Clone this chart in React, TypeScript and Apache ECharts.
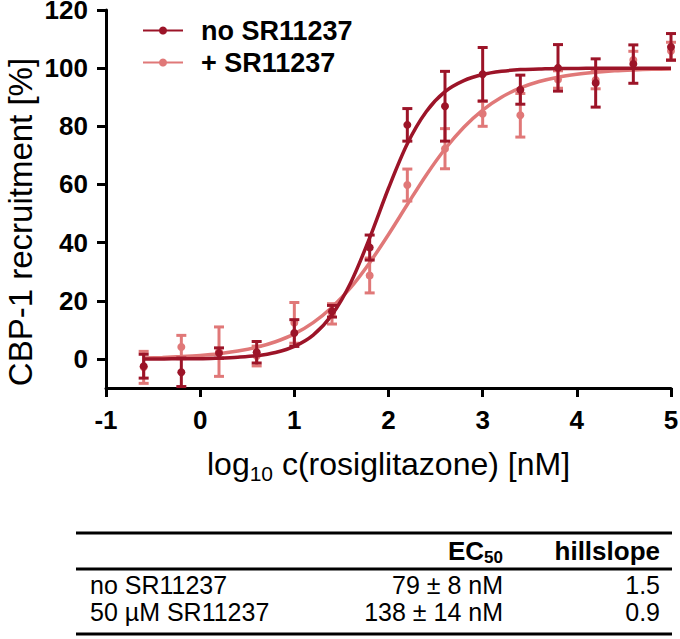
import React, { useEffect, useRef } from 'react';
import * as echarts from 'echarts';

// log10 concentration of rosiglitazone [nM]
const logConc = [-0.6, -0.2, 0.2, 0.6, 1.0, 1.4, 1.8, 2.2, 2.6, 3.0, 3.4, 3.8, 4.2, 4.6, 5.0];
// CBP-1 recruitment [%], mean and error
const noSRMean = [-2.5, -4.6, 2.0, 2.3, 8.9, 16.4, 38.3, 80.5, 86.9, 97.9, 92.6, 100.1, 94.9, 101.4, 107.3];
const noSRErr = [4.1, 4.9, 1.8, 3.7, 4.6, 2.0, 4.3, 5.6, 12.0, 9.2, 5.0, 8.0, 8.3, 6.6, 4.6];
const plusSRMean = [-2.9, 4.1, 2.5, 1.0, 12.4, 15.5, 28.7, 59.8, 72.3, 84.3, 83.8, 96.1, 95.9, 102.8, 105.9];
const plusSRErr = [5.5, 4.0, 8.5, 3.4, 7.0, 3.5, 6.0, 5.5, 6.9, 4.3, 7.5, 3.0, 3.0, 3.0, 3.0];

// fitted dose-response curves
const curveX = [-0.6, -0.4, -0.2, 0.0, 0.2, 0.4, 0.6, 0.8, 1.0, 1.2, 1.4, 1.6, 1.8, 2.0, 2.2, 2.4, 2.6, 2.8, 3.0, 3.2, 3.4, 3.6, 3.8, 4.0, 4.2, 4.4, 4.6, 4.8, 5.0];
const noSRFit = [0.0, 0.0, 0.1, 0.1, 0.3, 0.6, 1.1, 2.2, 4.3, 8.2, 15.2, 26.3, 41.6, 58.7, 74.0, 85.0, 91.9, 95.7, 97.8, 98.9, 99.5, 99.7, 99.9, 99.9, 100.0, 100.0, 100.0, 100.0, 100.0];
const plusSRFit = [0.3, 0.5, 0.8, 1.2, 1.8, 2.7, 4.0, 5.9, 8.6, 12.5, 17.8, 24.6, 33.1, 42.8, 53.1, 63.2, 72.2, 79.7, 85.6, 90.0, 93.2, 95.4, 96.9, 97.9, 98.6, 99.1, 99.4, 99.6, 99.7];

const xTicks = [-1, 0, 1, 2, 3, 4, 5];
const yTicks = [0, 20, 40, 60, 80, 100, 120];

const seriesNames = ['no SR11237', '+ SR11237'];
const yAxisTitle = 'CBP-1 recruitment [%]';
const tableRows = ['no SR11237', '50 µM SR11237'];
const tableEC50 = ['79 ± 8 nM', '138 ± 14 nM'];
const tableHill = ['1.5', '0.9'];

const DARK = '#9c1428';
const LIGHT = '#e07878';
const FONT = '"Liberation Sans", Arial, Helvetica, sans-serif';

function errorBars(name: string, means: number[], errs: number[], color: string, z: number) {
  return {
    type: 'custom',
    name,
    z,
    data: logConc.map((x, i) => [x, means[i], means[i] - errs[i], means[i] + errs[i]]),
    encode: { x: 0, y: [1, 2, 3] },
    renderItem: (params: any, api: any) => {
      const x = api.value(0);
      const mid = api.coord([x, api.value(1)]);
      const lo = api.coord([x, api.value(2)]);
      const hi = api.coord([x, api.value(3)]);
      const cap = 5;
      const style = { stroke: color, lineWidth: 3 };
      return {
        type: 'group',
        children: [
          { type: 'line', shape: { x1: lo[0], y1: lo[1], x2: hi[0], y2: hi[1] }, style },
          { type: 'line', shape: { x1: lo[0] - cap, y1: lo[1], x2: lo[0] + cap, y2: lo[1] }, style },
          { type: 'line', shape: { x1: hi[0] - cap, y1: hi[1], x2: hi[0] + cap, y2: hi[1] }, style },
          { type: 'circle', shape: { cx: mid[0], cy: mid[1], r: 4 }, style: { fill: color } },
        ],
      };
    },
  };
}

function fitLine(name: string, values: number[], color: string, z: number) {
  return {
    type: 'line',
    name,
    z,
    data: curveX.map((x, i) => [x, values[i]]),
    smooth: 0.3,
    showSymbol: false,
    symbol: 'circle',
    symbolSize: 8,
    itemStyle: { color },
    lineStyle: { color, width: 3.5 },
  };
}

export default function App() {
  const ref = useRef<HTMLDivElement>(null);

  useEffect(() => {
    if (!ref.current) return;
    const chart = echarts.init(ref.current, undefined, { renderer: 'svg' });
    const lineStyle = { stroke: '#000', lineWidth: 3 };
    const txt = { fontFamily: FONT, fontSize: 25, fill: '#000', lineHeight: 23 };
    const option: any = {
      animation: false,
      textStyle: { fontFamily: FONT, color: '#000' },
      grid: { left: 106, right: 9, top: 10, bottom: 251, outerBoundsMode: 'none' },
      legend: {
        data: seriesNames,
        orient: 'vertical',
        left: 137,
        top: 12,
        itemWidth: 40,
        itemHeight: 10,
        itemGap: 5,
        textStyle: { fontFamily: FONT, fontSize: 27, fontWeight: 'bold', color: '#000', padding: [0, 0, 0, 13] },
      },
      xAxis: {
        type: 'value',
        min: -1,
        max: 5,
        interval: 1,
        name: '{n|log}{s|10}{n| c(rosiglitazone) [nM]}',
        nameLocation: 'middle',
        nameGap: 58,
        nameTextStyle: {
          rich: {
            n: { fontFamily: FONT, fontSize: 32, color: '#000', lineHeight: 38, verticalAlign: 'bottom', padding: [0, 0, 4, 0] },
            s: { fontFamily: FONT, fontSize: 21, color: '#000', lineHeight: 38, verticalAlign: 'bottom' },
          },
        },
        axisLine: { onZero: false, lineStyle: { color: '#000', width: 3 } },
        axisTick: { customValues: xTicks, length: 9, lineStyle: { color: '#000', width: 3 } },
        axisLabel: { customValues: xTicks, margin: 19, fontFamily: FONT, fontSize: 26, fontWeight: 'bold', color: '#000' },
        splitLine: { show: false },
      },
      yAxis: {
        type: 'value',
        min: -10,
        max: 120,
        axisLine: { onZero: false, lineStyle: { color: '#000', width: 3 } },
        axisTick: { customValues: yTicks, length: 9, lineStyle: { color: '#000', width: 3 } },
        axisLabel: { customValues: yTicks, margin: 18, fontFamily: FONT, fontSize: 26, fontWeight: 'bold', color: '#000', lineHeight: 20 },
        splitLine: { show: false },
      },
      series: [
        errorBars('+ SR11237 data', plusSRMean, plusSRErr, LIGHT, 2),
        fitLine(seriesNames[1], plusSRFit, LIGHT, 3),
        errorBars('no SR11237 data', noSRMean, noSRErr, DARK, 4),
        fitLine(seriesNames[0], noSRFit, DARK, 5),
      ],
      graphic: [
        {
          type: 'text', x: 20, y: 222, rotation: Math.PI / 2,
          style: { fontFamily: FONT, fontSize: 33, fill: '#000', text: yAxisTitle, align: 'center', verticalAlign: 'middle' },
        },
        { type: 'line', shape: { x1: 76, y1: 533, x2: 672, y2: 533 }, style: lineStyle },
        { type: 'line', shape: { x1: 76, y1: 569, x2: 672, y2: 569 }, style: lineStyle },
        { type: 'line', shape: { x1: 76, y1: 634, x2: 672, y2: 634 }, style: lineStyle },
        {
          type: 'text', x: 503, y: 551,
          style: {
            text: '{b|EC}{s|50}', align: 'right', verticalAlign: 'middle',
            rich: {
              b: { fontFamily: FONT, fontSize: 26, fontWeight: 'bold', fill: '#000', lineHeight: 30, verticalAlign: 'bottom', padding: [0, 0, 2, 0] },
              s: { fontFamily: FONT, fontSize: 17, fontWeight: 'bold', fill: '#000', lineHeight: 30, verticalAlign: 'bottom' },
            },
          },
        },
        { type: 'text', x: 660, y: 551, style: { ...txt, fontSize: 26, lineHeight: 30, text: 'hillslope', fontWeight: 'bold', align: 'right', verticalAlign: 'middle' } },
        ...tableRows.flatMap((row, i) => {
          const y = 585 + i * 27;
          return [
            { type: 'text', x: 90, y, style: { ...txt, text: row, align: 'left', verticalAlign: 'middle' } },
            { type: 'text', x: 503, y, style: { ...txt, text: tableEC50[i], align: 'right', verticalAlign: 'middle' } },
            { type: 'text', x: 660, y, style: { ...txt, text: tableHill[i], align: 'right', verticalAlign: 'middle' } },
          ];
        }),
      ],
    };
    chart.setOption(option);
    return () => chart.dispose();
  }, []);

  return <div ref={ref} style={{ position: 'absolute', left: 0, top: 0, width: 680, height: 639 }} />;
}
